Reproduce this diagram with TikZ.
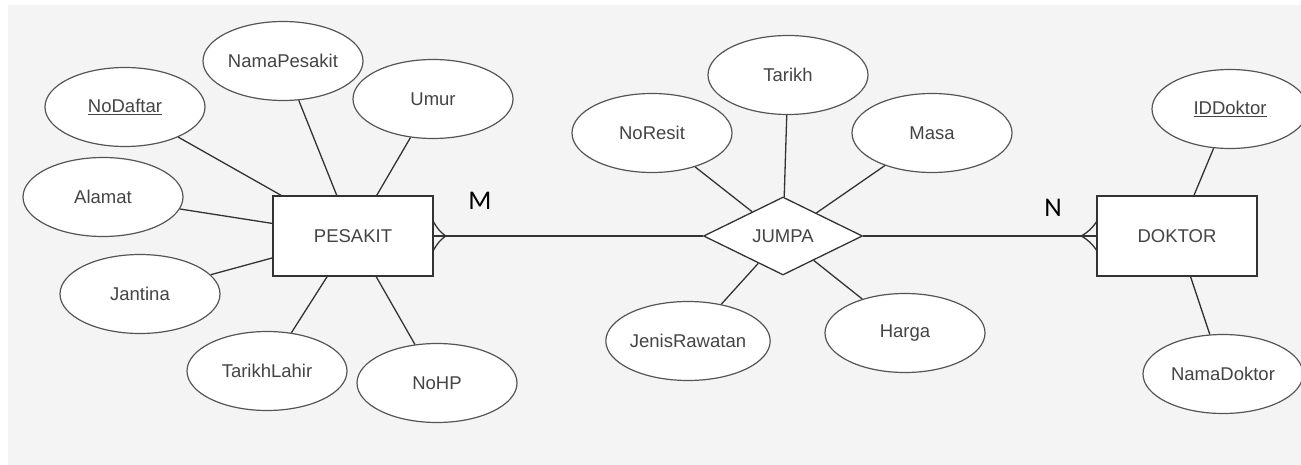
\documentclass[tikz,border=0pt]{standalone}
\usepackage{fontspec}
\setmainfont{Liberation Sans}
\newfontfamily\cardfont{Carlito}
\usetikzlibrary{shapes.geometric,calc}
\definecolor{bgc}{HTML}{F4F4F4}
\definecolor{txt}{HTML}{444444}
\definecolor{edge}{HTML}{333333}
\definecolor{oval}{HTML}{555555}
\begin{document}
\begin{tikzpicture}[x=1pt,y=-1pt,
  lbl/.style={text=txt,font=\fontsize{18.5}{21}\selectfont},
  attr/.style={ellipse,draw=oval,line width=1.2pt,fill=white,minimum width=160pt,minimum height=79pt,inner sep=0pt,lbl},
  ent/.style={rectangle,draw=edge,line width=1.3pt,fill=white,minimum width=160pt,minimum height=80pt,inner sep=0pt,lbl},
  rel/.style={diamond,draw=edge,line width=1.3pt,fill=white,minimum width=159pt,minimum height=78pt,aspect=2,inner sep=0pt,lbl},
  link/.style={draw=edge,line width=1.3pt},
  crow/.style={draw=edge,line width=1.3pt},
  card/.style={font=\cardfont\fontsize{27}{30}\selectfont,text=black,inner sep=0pt}
]
\useasboundingbox (0,0) rectangle (1301,465);
\fill[white] (0,0) rectangle (1301,465);
\fill[bgc] (8,5) rectangle (1301,465);

% entities and relationship
\node[ent] (pesakit) at (353,236) {PESAKIT};
\node[ent] (doktor) at (1177,236) {DOKTOR};
\node[rel] (jumpa) at (783,236) {JUMPA};

% PESAKIT attributes
\node[attr] (namap) at (283,61) {NamaPesakit};
\node[attr] (umur) at (433,99) {Umur};
\node[attr] (nodaftar) at (125,107) {\underline{NoDaftar}};
\node[attr] (alamat) at (103,197) {Alamat};
\node[attr] (jantina) at (140,294) {Jantina};
\node[attr] (tarikhl) at (267,371) {TarikhLahir};
\node[attr] (nohp) at (437,383) {NoHP};

% JUMPA attributes
\node[attr] (tarikh) at (788,75) {Tarikh};
\node[attr] (noresit) at (652,133) {NoResit};
\node[attr] (masa) at (932,133) {Masa};
\node[attr] (jenis) at (688,341) {JenisRawatan};
\node[attr] (harga) at (905,333) {Harga};

% DOKTOR attributes
\node[attr,minimum width=156pt] (iddoktor) at (1230,109) {\underline{IDDoktor}};
\node[attr] (namad) at (1223,374) {NamaDoktor};

% attribute links
\foreach \a in {namap,umur,nodaftar,alamat,jantina,tarikhl,nohp}
  \draw[link] (\a) -- (pesakit);
\foreach \a in {tarikh,noresit,masa,jenis,harga}
  \draw[link] (\a) -- (jumpa);
\foreach \a in {iddoktor,namad}
  \draw[link] (\a) -- (doktor);

% relationship lines
\draw[link,line width=1.6pt] (jumpa.west) -- (pesakit.east);
\draw[link,line width=1.6pt] (jumpa.east) -- (doktor.west);

% crow's feet
\coordinate (pf) at ($(pesakit.east)+(12,0)$);
\coordinate (pt1) at ($(pesakit.east)+(0,-14)$);
\coordinate (pt2) at ($(pesakit.east)+(0,14)$);
\draw[crow] (pf) to[bend left=12] (pt1);
\draw[crow] (pf) to[bend right=12] (pt2);
\coordinate (df) at ($(doktor.west)+(-15,0)$);
\coordinate (dt1) at ($(doktor.west)+(0,-14)$);
\coordinate (dt2) at ($(doktor.west)+(0,14)$);
\draw[crow] (df) to[bend right=12] (dt1);
\draw[crow] (df) to[bend left=12] (dt2);

% cardinalities
\node[card] (m) at (480,201) {M};
\node[card] (n) at (1053,208) {N};
\end{tikzpicture}
\end{document}
